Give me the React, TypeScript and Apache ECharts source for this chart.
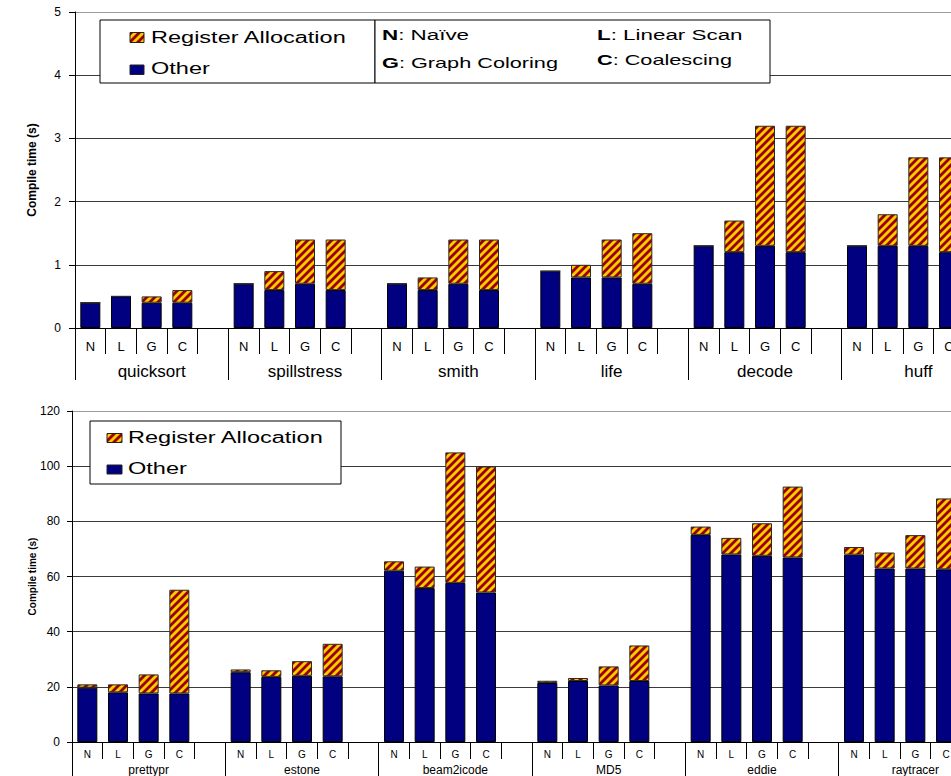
import React, { useEffect, useRef } from 'react';
import * as echarts from 'echarts';

// ---------- data ----------
const algLabels = ['N', 'L', 'G', 'C', ''];

const topBenchmarks = ['quicksort', 'spillstress', 'smith', 'life', 'decode', 'huff'];
// compile time (s) per benchmark, order N, L, G, C
const topOther = [
  [0.4, 0.5, 0.4, 0.4],
  [0.7, 0.6, 0.7, 0.6],
  [0.7, 0.6, 0.7, 0.6],
  [0.9, 0.8, 0.8, 0.7],
  [1.3, 1.2, 1.3, 1.2],
  [1.3, 1.3, 1.3, 1.2],
];
const topRegAlloc = [
  [0, 0, 0.1, 0.2],
  [0, 0.3, 0.7, 0.8],
  [0, 0.2, 0.7, 0.8],
  [0, 0.2, 0.6, 0.8],
  [0, 0.5, 1.9, 2.0],
  [0, 0.5, 1.4, 1.5],
];

const bottomBenchmarks = ['prettypr', 'estone', 'beam2icode', 'MD5', 'eddie', 'raytracer'];
const bottomOther = [
  [19.7, 18.0, 17.6, 17.6],
  [25.3, 23.6, 24.0, 23.8],
  [62.1, 55.8, 57.7, 54.2],
  [21.4, 22.1, 20.5, 22.1],
  [75.1, 68.0, 67.5, 66.9],
  [67.9, 62.9, 62.9, 62.6],
];
const bottomRegAlloc = [
  [1.2, 2.9, 6.9, 37.6],
  [1.0, 2.4, 5.3, 11.8],
  [3.4, 7.8, 47.3, 45.7],
  [0.8, 1.1, 6.9, 12.9],
  [3.0, 6.0, 11.8, 25.7],
  [2.8, 5.8, 12.1, 25.7],
];

const topYMax = 5;
const topYInterval = 1;
const bottomYMax = 120;
const bottomYInterval = 20;

const seriesNames = ['Register Allocation', 'Other'];
const algorithmKey = [
  ['N', 'Naïve'],
  ['L', 'Linear Scan'],
  ['G', 'Graph Coloring'],
  ['C', 'Coalescing'],
];
const yAxisTitle = 'Compile time (s)';

// ---------- helpers ----------
const FONT = "'Liberation Sans', Arial, sans-serif";
const NAVY = '#000080';

const slotsOf = (benches: string[]) => benches.flatMap((b) => algLabels.map((a) => `${b}|${a}`));
const flat = (vals: number[][]) => vals.flatMap((g) => [...g, '-']);
const slotFormatter = (v: string) => v.split('|')[1] ?? '';

function makeHatch() {
  const c = document.createElement('canvas');
  c.width = 8;
  c.height = 8;
  const ctx = c.getContext('2d')!;
  ctx.fillStyle = '#990000';
  ctx.fillRect(0, 0, 8, 8);
  ctx.strokeStyle = '#FFCC00';
  ctx.lineWidth = 2.8;
  for (const k of [0, 8, 16]) {
    ctx.beginPath();
    ctx.moveTo(k + 2, -2);
    ctx.lineTo(-2, k + 2);
    ctx.stroke();
  }
  return { image: c, repeat: 'repeat', imageWidth: 8, imageHeight: 8 } as any;
}

export default function App() {
  const ref = useRef<HTMLDivElement>(null);

  useEffect(() => {
    const chart = echarts.init(ref.current!, null, { renderer: 'svg' });
    const hatch = makeHatch();

    const innerAxis = (gridIndex: number, data: string[], tickLen: number, margin: number, fontSize: number) => ({
      gridIndex,
      type: 'category',
      position: 'bottom',
      data,
      axisLine: { show: true, onZero: false, lineStyle: { color: '#000', width: 1 } },
      axisTick: { show: true, interval: 0, length: tickLen, lineStyle: { color: '#000' } },
      axisLabel: { interval: 0, margin, fontSize, color: '#000', fontFamily: FONT, formatter: slotFormatter },
      splitLine: { show: false },
    });
    const groupAxis = (gridIndex: number, data: string[], tickLen: number, margin: number, fontSize: number) => ({
      gridIndex,
      type: 'category',
      position: 'bottom',
      data,
      axisLine: { show: false, onZero: false },
      axisTick: { show: true, interval: 0, length: tickLen, lineStyle: { color: '#000' } },
      axisLabel: { interval: 0, margin, fontSize, color: '#000', fontFamily: FONT },
      splitLine: { show: false },
    });
    const valueAxis = (
      gridIndex: number,
      max: number,
      interval: number,
      nameGap: number,
      nameSize: number,
      labelMargin: number,
      tickLen: number,
    ) => {
      const n = Math.round(max / interval) + 1;
      const colors = Array.from({ length: n }, (_, i) => (i === n - 1 ? '#9a9a9a' : '#3a3a3a'));
      return {
        gridIndex,
        type: 'value',
        min: 0,
        max,
        interval,
        name: yAxisTitle,
        nameLocation: 'middle',
        nameGap,
        nameMoveOverlap: false,
        nameTextStyle: {
          fontFamily: "'Liberation Sans Narrow', 'Arial Narrow', 'Liberation Sans', sans-serif",
          fontWeight: 'bold',
          fontSize: nameSize,
          color: '#000',
        },
        axisLine: { show: true, lineStyle: { color: '#000', width: 1 } },
        axisTick: { show: true, length: tickLen, lineStyle: { color: '#000' } },
        axisLabel: { margin: labelMargin, fontSize: 12, color: '#000', fontFamily: FONT },
        splitLine: { show: true, lineStyle: { color: colors, width: 1 } },
      };
    };

    const barSeries = (name: string, xi: number, yi: number, stack: string, data: any[], color: any, border: string) => ({
      name,
      type: 'bar',
      xAxisIndex: xi,
      yAxisIndex: yi,
      stack,
      barWidth: 20,
      data,
      itemStyle: { color, borderColor: border, borderWidth: 1 },
      emphasis: { disabled: true },
    });

    const text = (x: number, y: number, t: string, size: number, sx: number, rich?: any) => ({
      type: 'text',
      x,
      y,
      scaleX: sx,
      z: 20,
      style: {
        text: t,
        fontSize: size,
        fontFamily: FONT,
        fill: '#000',
        verticalAlign: 'middle',
        align: 'left',
        rich,
      },
    });
    const rect = (x: number, y: number, w: number, h: number, fill: any, stroke = '#000') => ({
      type: 'rect',
      z: 20,
      shape: { x, y, width: w, height: h },
      style: { fill, stroke, lineWidth: 1 },
    });
    const boldRich = { b: { fontWeight: 'bold', fontSize: 14, fontFamily: FONT, fill: '#000' } };

    const option: any = {
      animation: false,
      backgroundColor: '#fff',
      grid: [
        { left: 75, top: 12, width: 920, height: 316, outerBoundsMode: 'none', containLabel: false },
        { left: 72, top: 411, width: 920, height: 331, outerBoundsMode: 'none', containLabel: false },
      ],
      xAxis: [
        innerAxis(0, slotsOf(topBenchmarks), 26, 12, 13),
        groupAxis(0, topBenchmarks, 52, 35, 17),
        innerAxis(1, slotsOf(bottomBenchmarks), 17, 7, 10),
        groupAxis(1, bottomBenchmarks, 34, 22, 12),
      ],
      yAxis: [
        valueAxis(0, topYMax, topYInterval, 37, 12, 14, 6),
        valueAxis(1, bottomYMax, bottomYInterval, 35, 10, 12, 5),
      ],
      series: [
        barSeries(seriesNames[1], 0, 0, 'top', flat(topOther), NAVY, '#000'),
        barSeries(seriesNames[0], 0, 0, 'top', flat(topRegAlloc), hatch, '#2a2a2a'),
        barSeries(seriesNames[1], 2, 1, 'bottom', flat(bottomOther), NAVY, '#000'),
        barSeries(seriesNames[0], 2, 1, 'bottom', flat(bottomRegAlloc), hatch, '#2a2a2a'),
      ],
      graphic: [
        // top legend
        rect(100, 20, 275, 63, '#fff'),
        rect(130, 32.5, 14, 10, hatch, '#222'),
        text(151, 37.5, seriesNames[0], 16, 1.47),
        rect(130, 65, 14, 9.5, NAVY, '#222'),
        text(151, 68.5, seriesNames[1], 16, 1.47),
        // key box
        rect(375, 20, 395, 63, '#fff'),
        text(382, 35.5, `{b|${algorithmKey[0][0]}}: ${algorithmKey[0][1]}`, 14, 1.6, boldRich),
        text(597, 35.5, `{b|${algorithmKey[1][0]}}: ${algorithmKey[1][1]}`, 14, 1.6, boldRich),
        text(382, 63.5, `{b|${algorithmKey[2][0]}}: ${algorithmKey[2][1]}`, 14, 1.55, boldRich),
        text(597, 60, `{b|${algorithmKey[3][0]}}: ${algorithmKey[3][1]}`, 14, 1.55, boldRich),
        // bottom legend
        rect(90, 421, 251, 63, '#fff'),
        rect(107, 433.5, 15, 9, hatch, '#222'),
        text(128, 437.5, seriesNames[0], 16, 1.47),
        rect(107, 465, 15, 9, NAVY, '#222'),
        text(128, 468.5, seriesNames[1], 16, 1.47),
      ],
    };

    chart.setOption(option);
    return () => chart.dispose();
  }, []);

  return (
    <div
      ref={ref}
      style={{ position: 'absolute', left: 0, top: 0, width: 951, height: 776, background: '#fff' }}
    />
  );
}
